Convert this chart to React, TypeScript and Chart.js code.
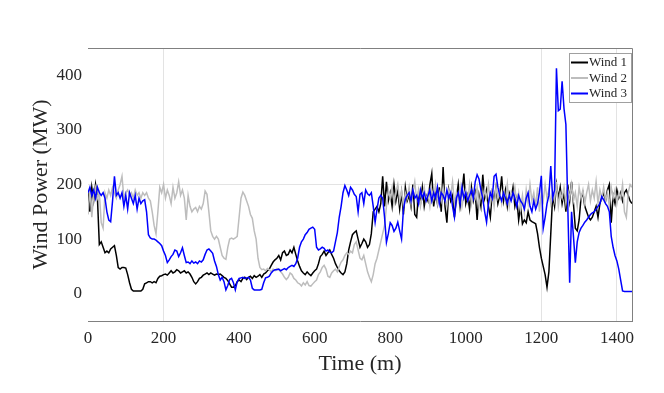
import { useEffect, useRef } from 'react';
import { Chart, registerables } from 'chart.js';
Chart.register(...registerables);

// sampling step of the series (minutes)
const STEP = 5;

const wind1 = [
  185,150,195,170,200,175,90,95,85,75,
  78,75,82,85,88,70,48,45,48,48,
  47,35,20,8,5,5,5,5,5,8,
  18,20,22,22,20,22,20,28,32,33,
  35,36,34,38,42,38,40,44,42,38,
  40,42,38,40,36,30,22,18,22,28,
  30,34,36,38,35,38,36,34,36,35,
  36,33,30,28,24,18,12,12,15,22,
  25,22,28,30,26,30,32,28,33,30,
  32,35,30,36,38,42,45,52,58,62,
  65,70,62,75,78,70,72,80,75,85,
  72,60,50,42,38,35,40,36,33,38,
  42,45,55,68,72,78,70,75,80,72,
  65,55,48,42,38,35,40,55,80,95,
  108,112,115,100,85,92,100,95,85,90,
  110,150,155,160,150,165,215,160,205,170,
  185,160,200,170,190,155,185,145,195,170,
  180,160,200,145,140,185,165,195,160,180,
  170,200,220,160,185,165,195,150,232,160,
  130,190,170,180,140,175,200,160,185,220,
  165,180,155,195,170,185,135,180,160,218,
  175,190,160,140,185,170,195,165,180,215,
  170,190,160,185,175,195,160,175,135,160,
  128,135,130,150,135,132,130,128,110,85,
  65,50,35,12,40,110,180,160,200,175,
  195,165,185,150,200,170,205,165,120,115,
  135,175,185,160,150,140,135,140,150,160,
  140,165,175,185,170,190,200,130,180,165,
  190,175,185,170,185,190,180,170,165,
];

const wind2 = [
  145,195,140,180,195,175,185,130,120,185,
  175,190,180,195,185,175,190,200,215,175,
  185,190,180,185,175,190,180,185,175,185,
  180,185,175,170,150,125,110,150,195,185,
  200,175,190,180,165,195,175,185,205,180,
  190,175,135,180,160,150,155,158,150,160,
  155,165,188,182,150,115,105,100,105,100,
  85,70,65,63,85,100,102,100,102,105,
  140,175,186,180,170,160,145,138,115,100,
  65,48,44,45,42,46,44,40,45,42,
  46,44,40,36,30,26,30,38,35,28,
  25,20,18,14,20,16,22,15,14,18,
  22,25,35,40,48,52,45,32,30,38,
  42,45,40,50,58,62,70,75,72,78,
  75,90,95,80,65,62,70,55,40,30,
  22,35,55,65,80,95,110,125,160,190,
  175,195,165,185,200,170,190,160,185,175,
  195,165,185,205,170,190,160,180,195,170,
  185,160,190,175,200,165,185,170,195,175,
  160,190,180,205,165,185,170,195,160,180,
  190,170,200,165,185,175,195,160,185,170,
  190,175,200,165,185,160,195,175,185,165,
  190,170,200,160,185,175,195,165,185,155,
  180,150,190,165,200,170,185,160,195,150,
  185,170,200,175,190,165,185,170,205,160,
  185,175,195,165,190,175,200,170,185,160,
  195,175,190,165,185,200,170,190,175,205,
  165,190,175,195,170,185,160,195,175,190,
  165,185,175,200,150,140,185,200,195,
];

const wind3 = [
  185,195,180,190,175,195,185,180,185,175,
  150,135,132,170,215,180,185,175,185,160,
  180,155,185,175,165,180,155,175,165,170,
  172,150,108,102,100,100,98,95,92,88,
  78,70,57,62,68,72,80,78,68,75,
  84,70,57,58,55,60,56,58,55,60,
  58,62,72,80,82,78,74,60,50,35,
  25,30,22,7,15,26,28,20,7,22,
  28,29,30,28,29,30,25,10,7,7,
  7,7,8,20,29,30,32,38,42,44,
  44,45,42,44,46,44,48,50,52,50,
  55,65,85,95,100,108,112,118,120,122,
  118,85,80,82,85,83,78,80,76,75,
  78,95,112,140,160,185,198,190,180,195,
  190,182,178,150,182,185,165,190,183,180,
  185,160,131,155,175,180,175,140,94,110,
  130,125,114,120,131,115,100,155,173,180,
  185,170,190,175,180,165,190,175,185,170,
  180,190,170,185,175,195,165,185,180,170,
  190,175,185,160,140,175,185,165,195,175,
  185,170,180,190,175,205,218,210,190,175,
  150,131,165,185,175,215,219,195,180,170,
  185,175,165,180,170,185,175,160,180,170,
  165,155,175,185,160,150,170,155,165,185,
  216,120,140,165,180,234,175,190,413,335,
  338,389,339,310,160,20,150,105,57,95,
  112,120,125,131,135,140,145,148,150,155,
  160,165,178,172,165,160,150,105,85,70,
  60,45,25,5,4,4,4,4,4,
];

const seriesNames = ['Wind 1', 'Wind 2', 'Wind 3'];
const seriesColors = ['#000000', '#bdbdbd', '#0000ff'];
const xTicks = [0, 200, 400, 600, 800, 1000, 1200, 1400];
const yTicks = [0, 100, 200, 300, 400];
const gridX = [200, 1200, 1400];
const gridY = [200];
const xTitle = 'Time (m)';
const yTitle = 'Wind Power (MW)';

const FONT = "'Liberation Serif', 'Times New Roman', serif";
const TEXT = '#262626';
const AXIS = '#808080';

export default function App() {
  const ref = useRef<HTMLCanvasElement>(null);

  useEffect(() => {
    const canvas = ref.current;
    if (!canvas) return;

    const toPts = (arr: number[]) => arr.map((v, i) => ({ x: i * STEP, y: v }));
    const series = [wind1, wind2, wind3];

    const boxPlugin = {
      id: 'boxAndLegend',
      afterDraw(chart: any) {
        const { ctx, chartArea } = chart;
        const { left, right, top, bottom } = chartArea;
        ctx.save();
        // top and right box lines
        ctx.strokeStyle = AXIS;
        ctx.lineWidth = 1;
        ctx.beginPath();
        ctx.moveTo(left, top + 0.5);
        ctx.lineTo(right + 0.5, top + 0.5);
        ctx.lineTo(right + 0.5, bottom);
        ctx.stroke();

        // legend box
        const w = 63;
        const h = 49;
        const x0 = right - w;
        const y0 = top + 5;
        ctx.fillStyle = '#ffffff';
        ctx.fillRect(x0, y0, w, h);
        ctx.strokeStyle = '#a0a0a0';
        ctx.strokeRect(x0 + 0.5, y0 + 0.5, w - 1, h);
        ctx.font = `13px ${FONT}`;
        ctx.textBaseline = 'middle';
        ctx.textAlign = 'left';
        seriesNames.forEach((name, i) => {
          const cy = y0 + 9.5 + i * 15.5;
          ctx.strokeStyle = seriesColors[i];
          ctx.lineWidth = 2;
          ctx.beginPath();
          ctx.moveTo(x0 + 2, cy);
          ctx.lineTo(x0 + 19, cy);
          ctx.stroke();
          ctx.fillStyle = TEXT;
          ctx.fillText(name, x0 + 20, cy + 0.5);
        });
        ctx.restore();
      },
    };

    const chart = new Chart(canvas, {
      type: 'line',
      data: {
        datasets: series.map((s, i) => ({
          label: seriesNames[i],
          data: toPts(s),
          borderColor: seriesColors[i],
          backgroundColor: seriesColors[i],
          borderWidth: 1.5,
          pointRadius: 0,
          tension: 0,
          fill: false,
          order: 3 - i,
        })),
      },
      options: {
        animation: false,
        responsive: false,
        devicePixelRatio: 1,
        layout: { padding: { left: 0, right: 32, top: 48, bottom: 0 } },
        plugins: {
          legend: { display: false },
          tooltip: { enabled: false },
        },
        scales: {
          x: {
            type: 'linear',
            min: 0,
            max: 1440,
            afterBuildTicks: (scale: any) => {
              scale.ticks = xTicks.map((v) => ({ value: v }));
            },
            afterFit: (scale: any) => {
              scale.height = 72;
            },
            ticks: {
              color: TEXT,
              font: { family: FONT, size: 17 },
              padding: 7,
              maxRotation: 0,
              autoSkip: false,
              callback: (v: any) => String(v),
            },
            grid: {
              drawTicks: false,
              color: (c: any) =>
                c.tick && gridX.includes(c.tick.value) ? '#e3e3e3' : 'rgba(0,0,0,0)',
              lineWidth: 1,
            },
            border: { display: true, color: AXIS, width: 1 },
            title: {
              display: true,
              text: xTitle,
              color: TEXT,
              font: { family: FONT, size: 22 },
              padding: { top: 0, bottom: 16 },
            },
          },
          y: {
            type: 'linear',
            min: -50,
            max: 450,
            afterBuildTicks: (scale: any) => {
              scale.ticks = yTicks.map((v) => ({ value: v }));
            },
            afterFit: (scale: any) => {
              scale.width = 88;
            },
            ticks: {
              color: TEXT,
              font: { family: FONT, size: 17 },
              padding: 6,
              autoSkip: false,
              callback: (v: any) => String(v),
            },
            grid: {
              drawTicks: false,
              color: (c: any) =>
                c.tick && gridY.includes(c.tick.value) ? '#e3e3e3' : 'rgba(0,0,0,0)',
              lineWidth: 1,
            },
            border: { display: false },
            title: {
              display: true,
              text: yTitle,
              color: TEXT,
              font: { family: FONT, size: 22 },
              padding: { top: 28, bottom: 0 },
            },
          },
        },
      },
      plugins: [boxPlugin],
    });

    return () => chart.destroy();
  }, []);

  return (
    <div style={{ position: 'absolute', left: 0, top: 0, width: 664, height: 393, background: '#fff' }}>
      <canvas ref={ref} width={664} height={393} style={{ display: 'block', width: 664, height: 393 }} />
    </div>
  );
}
